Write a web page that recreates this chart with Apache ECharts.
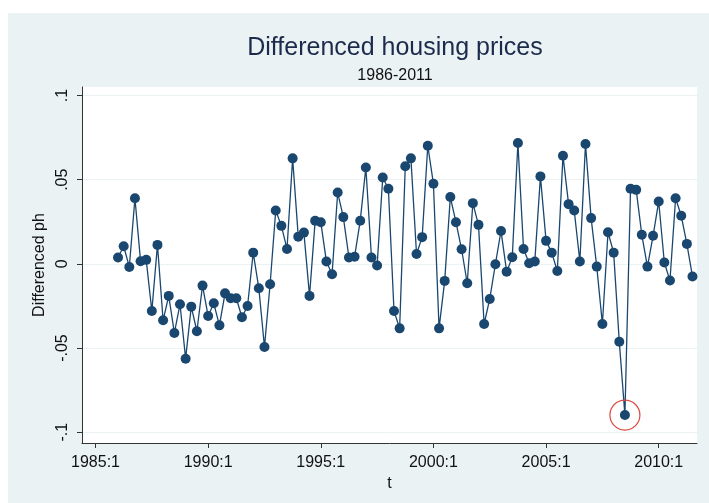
<!DOCTYPE html>
<html>
<head>
<meta charset="utf-8">
<script src="https://cdn.jsdelivr.net/npm/echarts@6/dist/echarts.min.js"></script>
<style>
  html, body { margin: 0; padding: 0; background: #fff; }
  #grafico { width: 709px; height: 503px; }
</style>
</head>
<body>
<div id="grafico"></div>
<script>
	// DADOS - diferenca trimestral do preco dos imoveis, 1986:1 a 2011:3
	var anoInicio = 1986;
	var trimInicio = 1;
	var valores = [
		0.0038, 0.0105, -0.0018, 0.0390, 0.0016, 0.0024, -0.0280, 0.0113, -0.0335, -0.0190,
		-0.0410, -0.0240, -0.0563, -0.0254, -0.0400, -0.0129, -0.0310, -0.0234, -0.0365, -0.0175,
		-0.0204, -0.0204, -0.0317, -0.0250, 0.0067, -0.0145, -0.0494, -0.0121, 0.0317, 0.0226,
		0.0089, 0.0627, 0.0162, 0.0186, -0.0190, 0.0256, 0.0248, 0.0014, -0.0061, 0.0424,
		0.0278, 0.0038, 0.0043, 0.0256, 0.0573, 0.0038, -0.0010, 0.0513, 0.0446, -0.0280,
		-0.0383, 0.0580, 0.0627, 0.0059, 0.0159, 0.0702, 0.0476, -0.0383, -0.0101, 0.0397,
		0.0248, 0.0087, -0.0115, 0.0361, 0.0232, -0.0357, -0.0208, -0.0002, 0.0196, -0.0046,
		0.0040, 0.0718, 0.0089, 0.0004, 0.0014, 0.0520, 0.0137, 0.0067, -0.0042, 0.0643,
		0.0355, 0.0317, 0.0014, 0.0712, 0.0272, -0.0016, -0.0357, 0.0188, 0.0067, -0.0462,
		-0.0898, 0.0446, 0.0440, 0.0173, -0.0016, 0.0167, 0.0371, 0.0008, -0.0099, 0.0390,
		0.0286, 0.0119, -0.0075
	];
	// ticks do eixo x (trimestres contados a partir de 1985:1) e do eixo y
	var ticksX = [0, 20, 40, 60, 80, 100];
	var ticksY = [-0.1, -0.05, 0, 0.05, 0.1];
	var rotulosY = ['-.1', '-.05', '0', '.05', '.1'];

	var base = 1985;
	var trimestre = function(ano, q){ return (ano - base) * 4 + (q - 1); };
	var pontos = valores.map(function(v, i){
		return [trimestre(anoInicio, trimInicio) + i, v];
	});
	// o ponto circulado: 2008:3
	var idxDestaque = trimestre(2008, 3);
	var valDestaque = pontos.filter(function(p){ return p[0] == idxDestaque; })[0][1];

	var fonte = '"Liberation Sans", Arial, sans-serif';
	var myChart = echarts.init(document.getElementById('grafico'));

	var option = {
		backgroundColor: '#ffffff',
		animation: false,
		graphic: [
			{ type: 'rect', z: -10, shape: { x: 8, y: 13, width: 701, height: 490 }, style: { fill: '#eaf2f3' } }
		],
		title: [
			{ text: 'Differenced housing prices', left: 390, top: 31, textAlign: 'center',
			  textStyle: { fontFamily: fonte, fontSize: 25, fontWeight: 'normal', color: '#1c2b4c' } },
			{ text: '1986-2011', left: 390, top: 63, textAlign: 'center',
			  textStyle: { fontFamily: fonte, fontSize: 16, fontWeight: 'normal', color: '#111' } }
		],
		grid: {
			left: 82, right: 12, top: 87, bottom: 60,
			show: true, backgroundColor: '#ffffff', borderWidth: 0
		},
		xAxis: {
			type: 'value',
			min: -2.4, max: 106.8,
			name: 't', nameLocation: 'middle', nameGap: 33,
			nameTextStyle: { fontFamily: fonte, fontSize: 16, color: '#111' },
			axisLine: { show: true, onZero: false, lineStyle: { color: '#333', width: 1 } },
			axisTick: { show: true, length: 5, customValues: ticksX, lineStyle: { color: '#333' } },
			axisLabel: {
				customValues: ticksX, margin: 12,
				fontFamily: fonte, fontSize: 16, color: '#111',
				formatter: function(v){ return (base + Math.floor(v / 4)) + ':' + (v % 4 + 1); }
			},
			splitLine: { show: false }
		},
		yAxis: {
			type: 'value',
			min: -0.1064, max: 0.1051,
			name: 'Differenced ph', nameLocation: 'middle', nameGap: 33,
			nameTextStyle: { fontFamily: fonte, fontSize: 16, color: '#111' },
			axisLine: { show: true, onZero: false, lineStyle: { color: '#333', width: 1 } },
			axisTick: { show: true, length: 5, customValues: ticksY, lineStyle: { color: '#333' } },
			axisLabel: {
				customValues: ticksY, rotate: 90, margin: 11,
				fontFamily: fonte, fontSize: 16, color: '#111',
				formatter: function(v){ return rotulosY[ticksY.indexOf(v)] || ''; }
			},
			splitLine: { show: false }
		},
		series: [
			{
				type: 'line',
				data: pontos,
				symbol: 'circle',
				symbolSize: 10,
				itemStyle: { color: '#1a476f' },
				lineStyle: { color: '#1a476f', width: 1.3 },
				markLine: {
					silent: true, symbol: 'none', label: { show: false }, z: 0,
					lineStyle: { color: '#eaf2f3', width: 1, type: 'solid' },
					data: ticksY.map(function(v){ return { yAxis: v }; })
				},
				markPoint: {
					silent: true, symbol: 'circle', symbolSize: 30, label: { show: false },
					itemStyle: { color: 'rgba(0,0,0,0)', borderColor: '#d9493f', borderWidth: 1.2 },
					data: [ { coord: [idxDestaque, valDestaque] } ]
				}
			}
		]
	};
	myChart.setOption(option);
</script>
</body>
</html>
